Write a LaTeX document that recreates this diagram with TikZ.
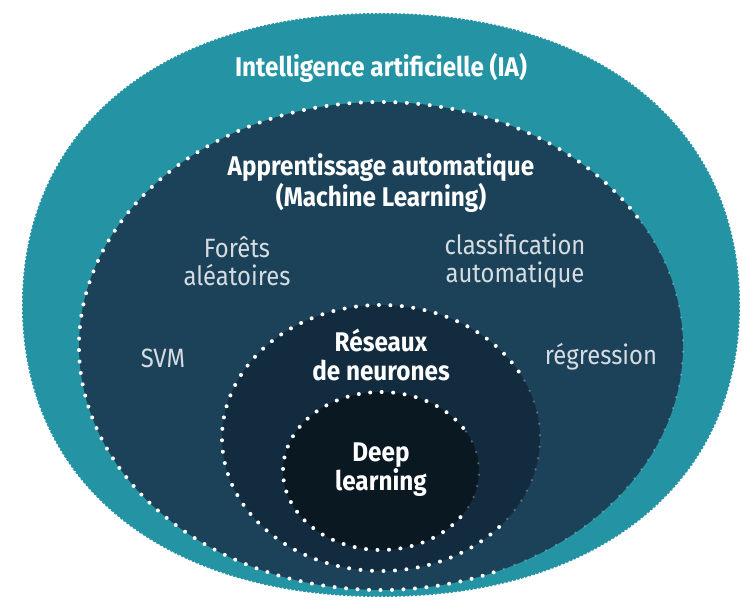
\documentclass[tikz,border=0pt]{standalone}
\usepackage{xcolor}
\usepackage{fontspec}
\setmainfont{Fira Sans}[FakeStretch=0.9]
\usepackage{tikz}

\definecolor{iateal}{HTML}{2494A4}
\definecolor{mlblue}{HTML}{1C4259}
\definecolor{nnblue}{HTML}{122B3F}
\definecolor{dlblue}{HTML}{0A1822}
\definecolor{algotext}{HTML}{D5DCE2}

\tikzset{
	pearls/.style = {white, line width = 4pt, line cap = round, dash pattern = on 0pt off 11.5pt},
	faintpearls/.style = {pearls, line width = 2.5pt, opacity = 0.3},
	scallop/.style = {white, line width = 2pt, line cap = round, dash pattern = on 0pt off 4pt},
	fieldname/.style = {text = white, font = \fontsize{27}{29}\selectfont\bfseries, align = center},
	algoname/.style = {text = algotext, font = \fontsize{26.5}{28}\selectfont, align = center}
}

\begin{document}
\begin{tikzpicture}[x = 1pt, y = 1pt]
			\useasboundingbox (0,0) rectangle (742,606);
			\def\cx{381};
			\def\k{0.61};

			% outer field, a slightly squarish ellipse
			\begin{scope}[shift = {(\cx,301)}, x = 359pt, y = 292pt]
				\fill[iateal] (1,0) .. controls (1,\k) and (\k,1) .. (0,1) .. controls (-\k,1) and (-1,\k) .. (-1,0)
					.. controls (-1,-\k) and (-\k,-1) .. (0,-1) .. controls (\k,-1) and (1,-\k) .. cycle;
				\draw[scallop] (1,0) .. controls (1,\k) and (\k,1) .. (0,1) .. controls (-\k,1) and (-1,\k) .. (-1,0)
					.. controls (-1,-\k) and (-\k,-1) .. (0,-1) .. controls (\k,-1) and (1,-\k) .. cycle;
			\end{scope}

			% nested fields
			\fill[mlblue] (\cx,260) ellipse [x radius = 302, y radius = 244];
			\fill[nnblue] (\cx,168) ellipse [x radius = 159, y radius = 133];
			\fill[dlblue] (\cx,135) ellipse [x radius = 98, y radius = 79];

			% dotted borders, fading out on the right
			\draw[pearls] (\cx,260) ++(32:302 and 244) arc [start angle = 32, end angle = 294, x radius = 302, y radius = 244];
			\draw[faintpearls] (\cx,260) ++(-66:302 and 244) arc [start angle = -66, end angle = 32, x radius = 302, y radius = 244];
			\draw[pearls] (\cx,168) ++(30:159 and 133) arc [start angle = 30, end angle = 318, x radius = 159, y radius = 133];
			\draw[faintpearls] (\cx,168) ++(-42:159 and 133) arc [start angle = -42, end angle = 30, x radius = 159, y radius = 133];
			\draw[pearls] (\cx,135) ++(33:98 and 79) arc [start angle = 33, end angle = 325, x radius = 98, y radius = 79];
			\draw[faintpearls] (\cx,135) ++(-35:98 and 79) arc [start angle = -35, end angle = 33, x radius = 98, y radius = 79];

			\node[fieldname] (ia) at (\cx,538) {Intelligence artificielle (IA)};
			\node[fieldname] (ml) at (\cx,423) {Apprentissage automatique\\(Machine Learning)};
			\node[fieldname] (nn) at (\cx,251) {Réseaux\\de neurones};
			\node[fieldname] (dl) at (\cx,136) {Deep\\learning};

			\node[algoname] (forets) at (237,345) {Forêts\\aléatoires};
			\node[algoname] (classif) at (515,345) {classification\\automatique};
			\node[algoname] (svm) at (163,248) {SVM};
			\node[algoname] (regr) at (601,249) {régression};
		\end{tikzpicture}
\end{document}
